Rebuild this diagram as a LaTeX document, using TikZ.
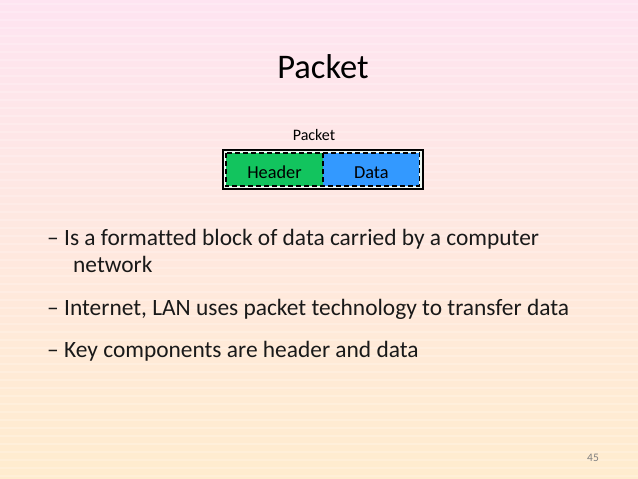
\documentclass[tikz,border=0pt]{standalone}
\usepackage{fontspec}
\setmainfont{Carlito}[Ligatures=NoCommon]
\usetikzlibrary{positioning,calc}
\definecolor{hdrgreen}{RGB}{18,196,94}
\definecolor{datblue}{RGB}{51,153,255}
\definecolor{bgtop}{RGB}{254,228,241}
\definecolor{bgbot}{RGB}{255,236,206}
\definecolor{boxfill}{RGB}{236,246,240}
\tikzset{
  bullet/.style={anchor=base west, inner sep=0pt, text=black!90, font=\fontsize{23.4}{27}\selectfont},
  field/.style={minimum height=33pt, inner sep=0pt, text height=17pt, text depth=0pt, font=\fontsize{18.3}{21}\selectfont},
  dashline/.style={line width=1.6pt, dash pattern=on 5pt off 3pt}
}

\begin{document}
\begin{tikzpicture}[x=1pt,y=-1pt]
        \useasboundingbox (0,0) rectangle (638,479);
        \shade[top color=bgtop, bottom color=bgbot] (0,0) rectangle (638,479);
        \foreach \y in {4,12,...,476}
            \draw[white, opacity=0.2, line width=1.2pt] (0,\y) -- (638,\y);

        \node[anchor=base, inner sep=0pt, font=\fontsize{34.5}{40}\selectfont] (title) at (323,78) {Packet};
        \node[anchor=base, inner sep=0pt, font=\fontsize{16}{19}\selectfont] (lbl) at (314,140) {Packet};

        \draw[line width=1.6pt, fill=boxfill] (223,150) rectangle (423,189);
        \node[field, fill=hdrgreen, minimum width=97pt] (hdr) at (274.5,169.5) {Header};
        \node[field, fill=datblue, minimum width=96pt, right=0pt of hdr] (dat) {Data};
        \draw[dashline] (hdr.north west) rectangle (dat.south east);
        \draw[dashline] (hdr.north east) -- (hdr.south east);

        \node[bullet] (b1) at (47,245) {-- Is a formatted block of data carried by a computer};
        \node[bullet] (b1b) at (73,272) {network};
        \node[bullet] (b2) at (47,315) {-- Internet, LAN uses packet technology to transfer data};
        \node[bullet] (b3) at (47,357) {-- Key components are header and data};

        \node[anchor=base, inner sep=0pt, text=black!50, font=\fontsize{11.5}{13}\selectfont] (pg) at (593,461) {45};
    \end{tikzpicture}
\end{document}
